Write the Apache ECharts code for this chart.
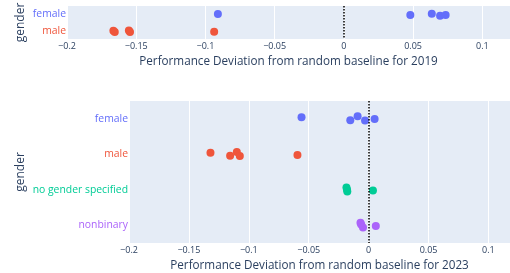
<!DOCTYPE html>
<html>
<head>
<meta charset="utf-8">
<script src="https://cdn.jsdelivr.net/npm/echarts@6/dist/echarts.min.js"></script>
<style>
html, body { margin: 0; padding: 0; background: #fff; }
#main { width: 510px; height: 273px; }
</style>
</head>
<body>
<div id="main"></div>
<script>
// categories (top to bottom)
var genders2019 = ['female', 'male'];
var genders2023 = ['female', 'male', 'no gender specified', 'nonbinary'];

// 2019 deviations and strip jitter (in category units)
var female2019 = [-0.091, 0.048, 0.0635, 0.0695, 0.0735];
var female2019Jitter = [-0.02, 0.05, -0.03, 0.09, 0.05];
var male2019 = [-0.1665, -0.1655, -0.1553, -0.1545, -0.0937];
var male2019Jitter = [0.0, 0.08, -0.02, 0.08, 0.06];

// 2023 deviations and strip jitter
var female2023 = [-0.056, -0.0153, -0.0092, -0.003, 0.005];
var female2023Jitter = [-0.04, 0.04, -0.07, 0.05, 0.01];
var male2023 = [-0.132, -0.1156, -0.110, -0.1075, -0.0594];
var male2023Jitter = [-0.04, 0.04, -0.06, 0.05, 0.02];
var noGender2023 = [-0.0185, -0.018, -0.0178, 0.0036];
var noGender2023Jitter = [-0.06, 0.0, 0.05, 0.02];
var nonbinary2023 = [-0.0068, -0.0062, -0.0047, 0.006];
var nonbinary2023Jitter = [-0.07, -0.02, 0.06, 0.02];

var colors = {
    'female': '#636efa',
    'male': '#EF553B',
    'no gender specified': '#00cc96',
    'nonbinary': '#ab63fa'
};

var textColor = '#2a3f5f';
var font = 'Open Sans';

function points(xs, jitter, idx) {
    return xs.map(function (x, i) { return [x, idx + jitter[i]]; });
}

function strip(name, xs, jitter, idx, axisIdx) {
    return {
        type: 'scatter',
        name: name,
        xAxisIndex: axisIdx,
        yAxisIndex: axisIdx * 2 + 1,
        symbolSize: 8,
        itemStyle: { color: colors[name], opacity: 1 },
        data: points(xs, jitter, idx)
    };
}

function zeroLine(axisIdx) {
    return {
        type: 'line',
        xAxisIndex: axisIdx,
        yAxisIndex: axisIdx * 2 + 1,
        data: [],
        markLine: {
            silent: true,
            symbol: ['none', 'none'],
            label: { show: false },
            lineStyle: { color: '#000', type: 'dotted', width: 1.5 },
            data: [{ xAxis: 0 }]
        }
    };
}

function xAxis(grid, max, title, gap) {
    return {
        type: 'value',
        gridIndex: grid,
        min: -0.2,
        max: max,
        interval: 0.05,
        axisLine: { show: false },
        axisTick: { show: false },
        splitLine: { lineStyle: { color: '#fff', width: 1 } },
        axisLabel: {
            showMaxLabel: false,
            margin: 3,
            fontSize: 9,
            fontFamily: font,
            color: textColor,
            formatter: function (v) { return String(+v.toFixed(2)).replace('-', '\u2212'); }
        },
        name: title,
        nameLocation: 'middle',
        nameGap: gap,
        nameTextStyle: { fontSize: 11.7, fontFamily: font, color: textColor }
    };
}

function catAxis(grid, cats, gap) {
    return {
        type: 'category',
        gridIndex: grid,
        data: cats,
        inverse: true,
        axisLine: { show: false },
        axisTick: { show: false },
        splitLine: { show: false },
        axisLabel: {
            margin: 1,
            fontSize: 10.4,
            fontFamily: font,
            color: function (v) { return colors[v]; }
        },
        name: 'gender',
        nameLocation: 'middle',
        nameGap: gap,
        nameRotate: 90,
        nameMoveOverlap: false,
        nameTextStyle: { fontSize: 12, fontFamily: font, color: textColor }
    };
}

function valAxis(grid, n) {
    return {
        type: 'value',
        gridIndex: grid,
        min: -0.5,
        max: n - 0.5,
        inverse: true,
        show: false
    };
}

var myChart = echarts.init(document.getElementById('main'));

var option = {
    animation: false,
    grid: [
        { left: 67, right: 0, top: 6, height: 33, backgroundColor: '#e5ecf6', show: true, borderWidth: 0, outerBoundsMode: 'none', containLabel: false },
        { left: 129, right: 0, top: 101, height: 142, backgroundColor: '#e5ecf6', show: true, borderWidth: 0, outerBoundsMode: 'none', containLabel: false }
    ],
    xAxis: [
        xAxis(0, 0.12, 'Performance Deviation from random baseline for 2019', 17),
        xAxis(1, 0.118, 'Performance Deviation from random baseline for 2023', 10)
    ],
    yAxis: [
        catAxis(0, genders2019, 40),
        valAxis(0, genders2019.length),
        catAxis(1, genders2023, 102),
        valAxis(1, genders2023.length)
    ],
    series: [
        zeroLine(0),
        strip('female', female2019, female2019Jitter, 0, 0),
        strip('male', male2019, male2019Jitter, 1, 0),
        zeroLine(1),
        strip('female', female2023, female2023Jitter, 0, 1),
        strip('male', male2023, male2023Jitter, 1, 1),
        strip('no gender specified', noGender2023, noGender2023Jitter, 2, 1),
        strip('nonbinary', nonbinary2023, nonbinary2023Jitter, 3, 1)
    ]
};

option && myChart.setOption(option);
</script>
</body>
</html>
